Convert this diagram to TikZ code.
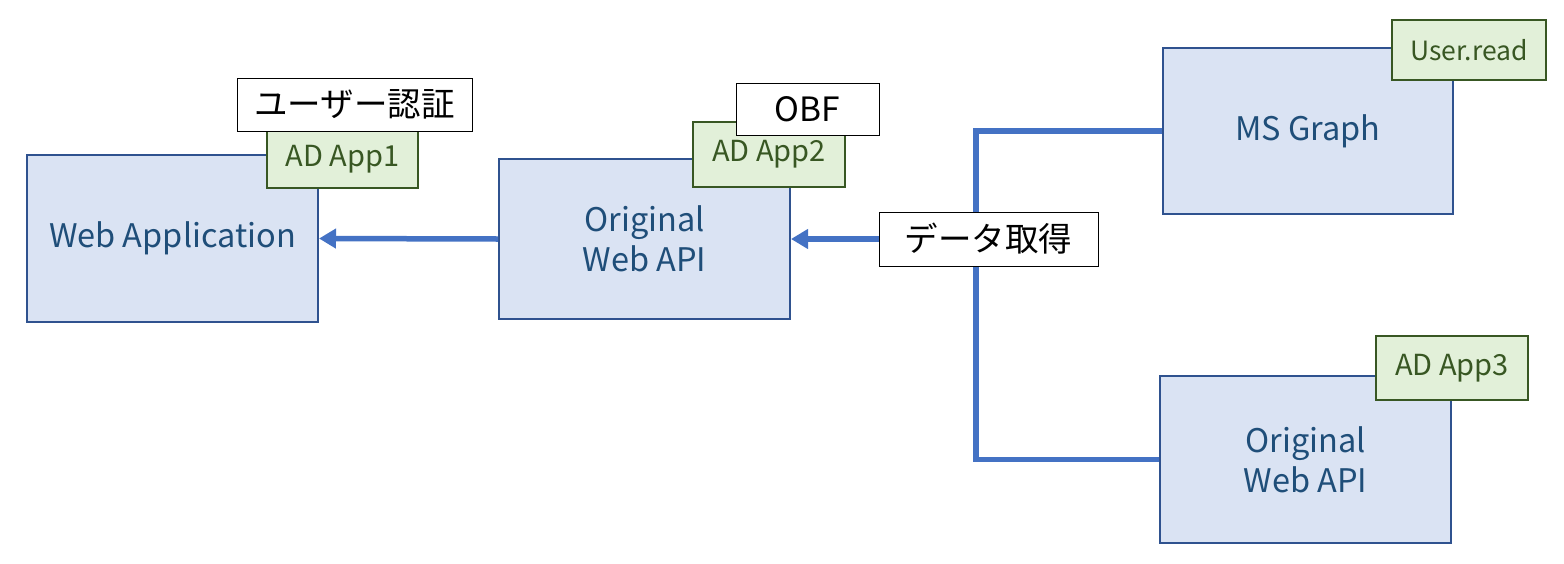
\documentclass[tikz,border=0pt]{standalone}
\usepackage{fontspec}
\setmainfont{Noto Sans CJK JP}
\usetikzlibrary{arrows.meta}
\definecolor{boxfill}{HTML}{DAE3F3}
\definecolor{boxline}{HTML}{2F528F}
\definecolor{boxtext}{HTML}{1F4E79}
\definecolor{tagfill}{HTML}{E2F0D9}
\definecolor{tagline}{HTML}{385723}
\definecolor{conn}{HTML}{4472C4}
\tikzset{
  svc/.style={draw=boxline, line width=2pt, fill=boxfill, text=boxtext, inner sep=0pt,
    align=center, font=\fontsize{32.5}{40}\selectfont},
  tag/.style={draw=tagline, line width=2pt, fill=tagfill, text=tagline, inner sep=0pt,
    font=\fontsize{29}{32}\selectfont},
  lbl/.style={draw=black, line width=1pt, fill=white, text=black, inner sep=0pt,
    font=\fontsize{33.5}{38}\selectfont},
  wire/.style={draw=conn, line width=5.5pt},
  arr/.style={wire, -{Triangle[length=17pt,width=19pt]}}
}
\begin{document}
\begin{tikzpicture}[x=1pt,y=-1pt]
\useasboundingbox (0,0) rectangle (1564,563);
% services
\node[svc, minimum width=291pt, minimum height=167pt] (web) at (172.5,238.5) {Web Application};
\node[svc, minimum width=291pt, minimum height=160pt] (api1) at (644.5,239) {Original\\Web API};
\node[svc, minimum width=290pt, minimum height=166pt] (msg) at (1308,131) {MS Graph};
\node[svc, minimum width=291pt, minimum height=167pt] (api3) at (1305.5,459.5) {Original\\Web API};
% connectors
\draw[arr] (api1.west) -- (web.east);
\node[lbl, minimum width=219pt, minimum height=54pt] (data) at (988.5,239) {データ取得};
\coordinate (jx) at (976,0);
\draw[wire] (msg.west) -- (msg.west -| jx) -- (jx |- data.north);
\draw[wire] (jx |- data.south) -- (jx |- api3.west) -- (api3.west);
\draw[arr] (data.west) -- (api1.east);
\node[lbl, minimum width=219pt, minimum height=54pt] at (data) {データ取得};
% tags
\node[tag, minimum width=151pt, minimum height=57pt] (app1) at (342.5,159.5) {AD App1};
\node[tag, minimum width=152pt, minimum height=65pt] (app2) at (769,154.5) {AD App2};
\node[tag, minimum width=154pt, minimum height=60pt, font=\fontsize{26.5}{30}\selectfont] (uread) at (1469,50) {User.read};
\node[tag, minimum width=152pt, minimum height=64pt] (app3) at (1452,368) {AD App3};
% labels
\node[lbl, minimum width=235pt, minimum height=53pt] (auth) at (354.5,104.5) {ユーザー認証};
\node[lbl, minimum width=143pt, minimum height=52pt] (obf) at (807.5,109) {OBF};
\end{tikzpicture}
\end{document}
